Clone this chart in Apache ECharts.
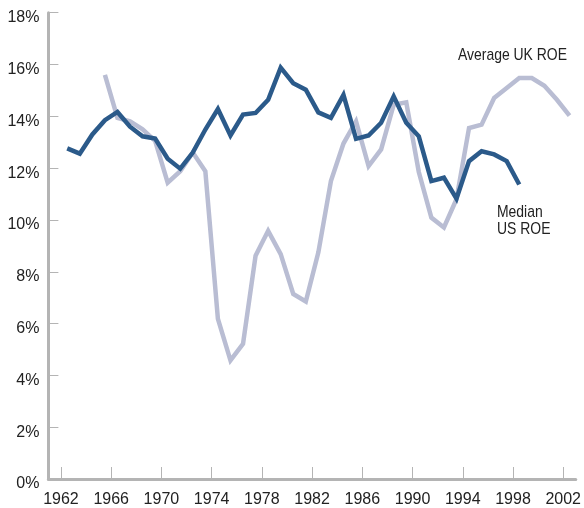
<!DOCTYPE html>
<html style="height: 100%">
<head>
    <meta charset="utf-8">
    <title>ROE</title>
    <script src="https://cdn.jsdelivr.net/npm/echarts@6/dist/echarts.min.js"></script>
</head>
<body style="height: 100%; margin: 0">
<div id="container" style="width: 584px; height: 508px"></div>
<script type="text/javascript">
    // years and ROE values (%)
    var usYears = [1962, 1963, 1964, 1965, 1966, 1967, 1968, 1969, 1970, 1971,
                   1972, 1973, 1974, 1975, 1976, 1977, 1978, 1979, 1980, 1981,
                   1982, 1983, 1984, 1985, 1986, 1987, 1988, 1989, 1990, 1991,
                   1992, 1993, 1994, 1995, 1996, 1997, 1998];
    var usRoe = [12.76, 12.56, 13.3, 13.85, 14.17, 13.6, 13.23, 13.14, 12.36, 11.98,
                 12.6, 13.49, 14.28, 13.26, 14.07, 14.13, 14.64, 15.88, 15.28, 15.03,
                 14.15, 13.94, 14.83, 13.13, 13.26, 13.75, 14.77, 13.75, 13.23, 11.5,
                 11.63, 10.82, 12.27, 12.65, 12.53, 12.27, 11.37];

    var ukYears = [1965, 1966, 1967, 1968, 1969, 1970, 1971, 1972, 1973, 1974,
                   1975, 1976, 1977, 1978, 1979, 1980, 1981, 1982, 1983, 1984,
                   1985, 1986, 1987, 1988, 1989, 1990, 1991, 1992, 1993, 1994,
                   1995, 1996, 1997, 1998, 1999, 2000, 2001, 2002];
    var ukRoe = [15.6, 13.94, 13.81, 13.5, 13.05, 11.44, 11.88, 12.6, 11.88, 6.18,
                 4.58, 5.22, 8.62, 9.58, 8.68, 7.14, 6.85, 8.75, 11.5, 12.95,
                 13.81, 12.08, 12.72, 14.45, 14.54, 11.85, 10.09, 9.71, 10.8, 13.55,
                 13.68, 14.71, 15.09, 15.48, 15.48, 15.18, 14.64, 14.03];

    var yearTicks = [1962, 1966, 1970, 1974, 1978, 1982, 1986, 1990, 1994, 1998, 2002];

    var font = "'Liberation Sans', Arial, sans-serif";
    var axisGray = '#b4b4b4';
    var textColor = '#222';

    // values are plotted at mid-year
    function toPoints(years, vals) {
        var pts = [];
        for (var i = 0; i < years.length; i++) {
            pts.push([years[i] + 0.5, vals[i]]);
        }
        return pts;
    }

    var myChart = echarts.init(document.getElementById('container'));
    var option = {
        animation: false,
        grid: { left: 48.4, right: 6.4, top: 12.7, bottom: 27.3 },
        xAxis: {
            type: 'value',
            min: 1961,
            max: 2003,
            axisLine: { lineStyle: { color: axisGray, width: 3 } },
            axisTick: { inside: true, length: 12, customValues: yearTicks,
                        lineStyle: { color: axisGray, width: 1 } },
            axisLabel: { customValues: yearTicks, margin: 13, color: textColor,
                         fontFamily: font, fontSize: 16,
                         formatter: function (v) { return String(v); } },
            splitLine: { show: false }
        },
        yAxis: {
            type: 'value',
            min: 0,
            max: 18,
            interval: 2,
            axisLine: { show: true, lineStyle: { color: axisGray, width: 3 } },
            axisTick: { show: true, inside: true, length: 10,
                        lineStyle: { color: axisGray, width: 1 } },
            axisLabel: { formatter: '{value}%', margin: 9, color: textColor,
                         fontFamily: font, fontSize: 16,
                         verticalAlign: 'top', lineHeight: 10 },
            splitLine: { show: false }
        },
        graphic: [
            { type: 'text', x: 458, y: 47, scaleX: 0.82,
              style: { text: 'Average UK ROE', fill: textColor, font: '17px ' + font } },
            { type: 'text', x: 497, y: 204, scaleX: 0.82,
              style: { text: 'Median\nUS ROE', fill: textColor, font: '17px ' + font, lineHeight: 17 } }
        ],
        series: [
            {
                name: 'Average UK ROE',
                type: 'line',
                data: toPoints(ukYears, ukRoe),
                showSymbol: false,
                lineStyle: { color: '#b9bdd3', width: 4.5, join: 'miter' }
            },
            {
                name: 'Median US ROE',
                type: 'line',
                data: toPoints(usYears, usRoe),
                showSymbol: false,
                lineStyle: { color: '#2b5a8a', width: 4.5, join: 'miter' }
            }
        ]
    };
    myChart.setOption(option);
</script>
</body>
</html>
